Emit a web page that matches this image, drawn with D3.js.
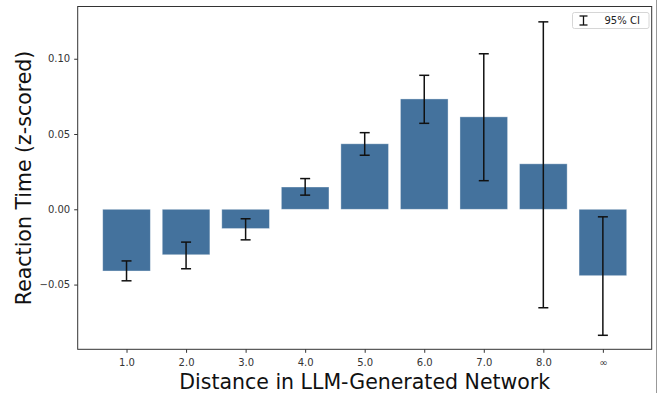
<!DOCTYPE html>
<html>
<head>
<meta charset="utf-8">
<script src="https://cdn.jsdelivr.net/npm/d3@7"></script>
<style>
  body { margin: 0; background: #fff; }
  svg { display: block; font-family: "DejaVu Sans", sans-serif; }
</style>
</head>
<body>
<svg width="659" height="393"></svg>
<script>
// data
var categories = ["1.0", "2.0", "3.0", "4.0", "5.0", "6.0", "7.0", "8.0", "\u221e"];
var means  = [-0.0410, -0.0302, -0.0128, 0.0148, 0.0435, 0.0733, 0.0614, 0.0302, -0.0441];
var ciLow  = [-0.0475, -0.0395, -0.0203, 0.0094, 0.0359, 0.0571, 0.0190, -0.0654, -0.0837];
var ciHigh = [-0.0343, -0.0218, -0.0063, 0.0204, 0.0509, 0.0890, 0.1033, 0.1245, -0.0050];
var yTicks = [-0.05, 0.00, 0.05, 0.10];

// plot box (window.top is reserved, so use other names)
var pLeft = 77.7, pRight = 651.7, pTop = 6.5, pBottom = 349.3;
var barColor = "#44729d";

var svg = d3.select("svg");

var xs = d3.scaleLinear().domain([-0.82, categories.length - 1 + 0.82]).range([pLeft, pRight]);
var ys = d3.scaleLinear().domain([-0.093, 0.1347]).range([pBottom, pTop]);
var bw = xs(0.8) - xs(0);

// bars
svg.append("g").selectAll("rect").data(means).enter().append("rect")
    .attr("x", function(d, i) { return xs(i) - bw / 2; })
    .attr("y", function(d) { return ys(Math.max(d, 0)); })
    .attr("width", bw)
    .attr("height", function(d) { return Math.abs(ys(d) - ys(0)); })
    .attr("fill", barColor)
    .attr("stroke", "#fff")
    .attr("stroke-opacity", 0.45)
    .attr("stroke-width", 0.8);

// error bars
var eb = svg.append("g").attr("stroke", "#111").attr("stroke-width", 1.5);
var cap = 5;
categories.forEach(function(c, i) {
  var cx = xs(i);
  eb.append("line").attr("x1", cx).attr("x2", cx).attr("y1", ys(ciLow[i])).attr("y2", ys(ciHigh[i]));
  eb.append("line").attr("x1", cx - cap).attr("x2", cx + cap).attr("y1", ys(ciLow[i])).attr("y2", ys(ciLow[i]));
  eb.append("line").attr("x1", cx - cap).attr("x2", cx + cap).attr("y1", ys(ciHigh[i])).attr("y2", ys(ciHigh[i]));
});

// axes
var yAxis = svg.append("g")
    .attr("transform", "translate(" + pLeft + ",0)")
    .call(d3.axisLeft(ys).tickValues(yTicks).tickFormat(d3.format(".2f")).tickSizeOuter(0).tickSize(3.5).tickPadding(4));
var xAxis = svg.append("g")
    .attr("transform", "translate(0," + pBottom + ")")
    .call(d3.axisBottom(xs).tickValues(d3.range(categories.length)).tickFormat(function(d) { return categories[d]; })
      .tickSizeOuter(0).tickSize(3.5).tickPadding(6.5));
[xAxis, yAxis].forEach(function(a) {
  a.select(".domain").remove();
  a.selectAll("line").attr("stroke", "#333");
  a.selectAll("text").attr("font-size", 10).attr("fill", "#333").attr("font-family", "DejaVu Sans");
});

// frame
svg.append("rect")
    .attr("x", pLeft).attr("y", pTop)
    .attr("width", pRight - pLeft).attr("height", pBottom - pTop)
    .attr("fill", "none").attr("stroke", "#333").attr("stroke-width", 1);

// axis labels
svg.append("text")
    .attr("x", (pLeft + pRight) / 2).attr("y", 389)
    .attr("text-anchor", "middle")
    .attr("font-size", 20.5).attr("fill", "#111")
    .text("Distance in LLM-Generated Network");
svg.append("text")
    .attr("transform", "translate(31," + ((pTop + pBottom) / 2) + ") rotate(-90)")
    .attr("text-anchor", "middle")
    .attr("font-size", 20.5).attr("fill", "#111")
    .text("Reaction Time (z-scored)");

// legend
var lg = svg.append("g").attr("transform", "translate(572.5,12.5)");
lg.append("rect").attr("width", 76.5).attr("height", 16).attr("rx", 2)
    .attr("fill", "#fff").attr("fill-opacity", 0.8).attr("stroke", "#d6d6d6");
var li = lg.append("g").attr("stroke", "#111").attr("stroke-width", 1.3);
li.append("line").attr("x1", 11).attr("x2", 11).attr("y1", 3.5).attr("y2", 12.5);
li.append("line").attr("x1", 7).attr("x2", 15).attr("y1", 3.5).attr("y2", 3.5);
li.append("line").attr("x1", 7).attr("x2", 15).attr("y1", 12.5).attr("y2", 12.5);
lg.append("text").attr("x", 32).attr("y", 11.5).attr("font-size", 10).attr("fill", "#222").text("95% CI");

// image edge line on the right
svg.append("line").attr("x1", 656.5).attr("x2", 656.5).attr("y1", 0).attr("y2", 393)
    .attr("stroke", "#999").attr("stroke-width", 1);
</script>
</body>
</html>
